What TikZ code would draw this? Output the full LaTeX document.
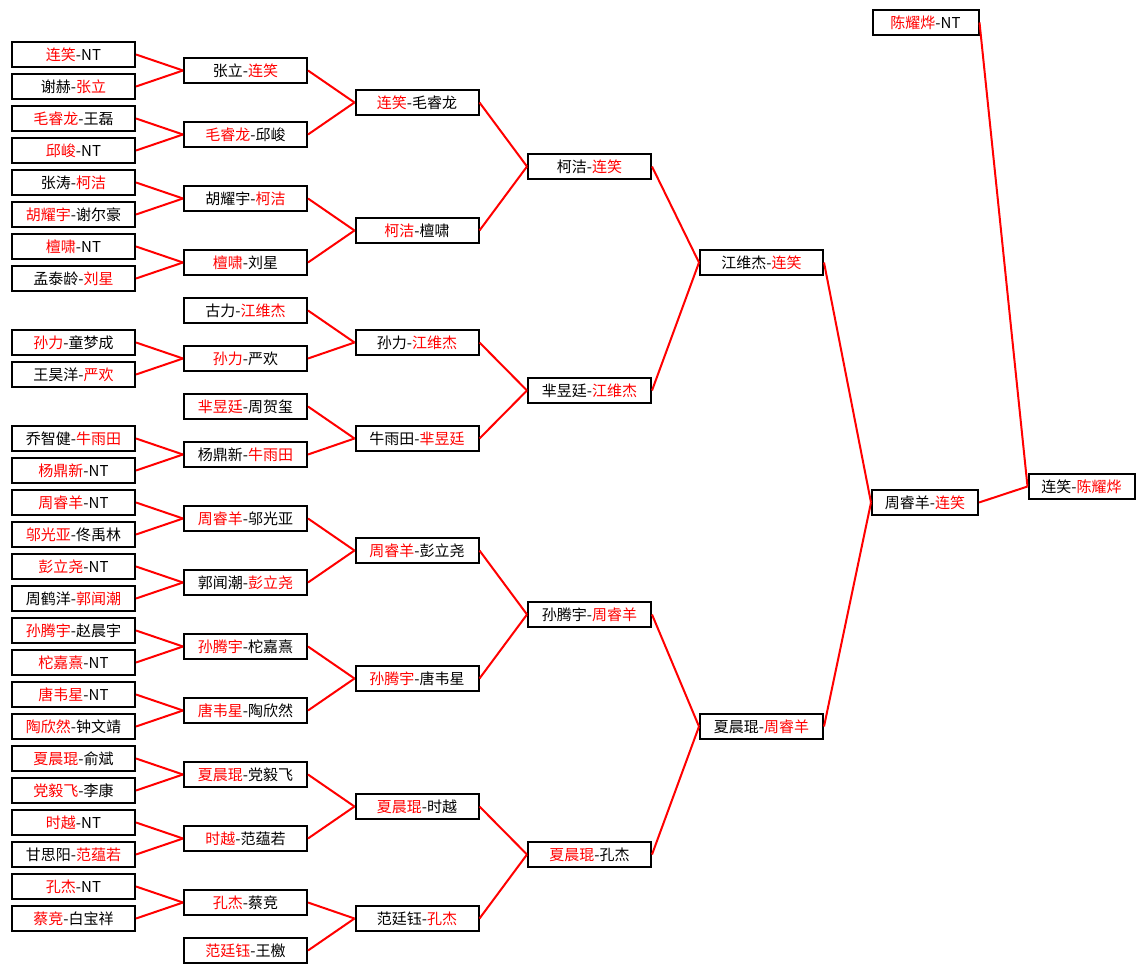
\documentclass[tikz,border=0pt]{standalone}
\usepackage{fontspec}
\setmainfont{Noto Sans CJK SC}
\newcommand\win[1]{\textcolor{red}{#1}}

\tikzset{
  pbox/.style={draw, line width=2pt, fill=white, minimum width=123pt,
    minimum height=25pt, inner sep=0pt, font=\fontsize{15}{15}\selectfont},
  sbox/.style={pbox, minimum width=106pt},
  link/.style={red, line width=2pt}
}

\begin{document}
\begin{tikzpicture}[x=1pt,y=-1pt]

%background
\fill[white] (0,0) rectangle (1145,973);
\useasboundingbox (0,0) rectangle (1145,973);

%first round
\node[pbox] (ra1) at (73.5,54.5) {\win{连笑}-NT};
\node[pbox] (ra2) at (73.5,86.5) {谢赫-\win{张立}};
\node[pbox] (ra3) at (73.5,118.5) {\win{毛睿龙}-王磊};
\node[pbox] (ra4) at (73.5,150.5) {\win{邱峻}-NT};
\node[pbox] (ra5) at (73.5,182.5) {张涛-\win{柯洁}};
\node[pbox] (ra6) at (73.5,214.5) {\win{胡耀宇}-谢尔豪};
\node[pbox] (ra7) at (73.5,246.5) {\win{檀啸}-NT};
\node[pbox] (ra8) at (73.5,278.5) {孟泰龄-\win{刘星}};
\node[pbox] (ra9) at (73.5,342.5) {\win{孙力}-童梦成};
\node[pbox] (ra10) at (73.5,374.5) {王昊洋-\win{严欢}};
\node[pbox] (ra11) at (73.5,438.5) {乔智健-\win{牛雨田}};
\node[pbox] (ra12) at (73.5,470.5) {\win{杨鼎新}-NT};
\node[pbox] (ra13) at (73.5,502.5) {\win{周睿羊}-NT};
\node[pbox] (ra14) at (73.5,534.5) {\win{邬光亚}-佟禹林};
\node[pbox] (ra15) at (73.5,566.5) {\win{彭立尧}-NT};
\node[pbox] (ra16) at (73.5,598.5) {周鹤洋-\win{郭闻潮}};
\node[pbox] (ra17) at (73.5,630.5) {\win{孙腾宇}-赵晨宇};
\node[pbox] (ra18) at (73.5,662.5) {\win{柁嘉熹}-NT};
\node[pbox] (ra19) at (73.5,694.5) {\win{唐韦星}-NT};
\node[pbox] (ra20) at (73.5,726.5) {\win{陶欣然}-钟文靖};
\node[pbox] (ra21) at (73.5,758.5) {\win{夏晨琨}-俞斌};
\node[pbox] (ra22) at (73.5,790.5) {\win{党毅飞}-李康};
\node[pbox] (ra23) at (73.5,822.5) {\win{时越}-NT};
\node[pbox] (ra24) at (73.5,854.5) {甘思阳-\win{范蕴若}};
\node[pbox] (ra25) at (73.5,886.5) {\win{孔杰}-NT};
\node[pbox] (ra26) at (73.5,918.5) {\win{蔡竞}-白宝祥};

%second round
\node[pbox] (rb1) at (245.5,70.5) {张立-\win{连笑}};
\node[pbox] (rb2) at (245.5,134.5) {\win{毛睿龙}-邱峻};
\node[pbox] (rb3) at (245.5,198.5) {胡耀宇-\win{柯洁}};
\node[pbox] (rb4) at (245.5,262.5) {\win{檀啸}-刘星};
\node[pbox] (rb5) at (245.5,310.5) {古力-\win{江维杰}};
\node[pbox] (rb6) at (245.5,358.5) {\win{孙力}-严欢};
\node[pbox] (rb7) at (245.5,406.5) {\win{芈昱廷}-周贺玺};
\node[pbox] (rb8) at (245.5,454.5) {杨鼎新-\win{牛雨田}};
\node[pbox] (rb9) at (245.5,518.5) {\win{周睿羊}-邬光亚};
\node[pbox] (rb10) at (245.5,582.5) {郭闻潮-\win{彭立尧}};
\node[pbox] (rb11) at (245.5,646.5) {\win{孙腾宇}-柁嘉熹};
\node[pbox] (rb12) at (245.5,710.5) {\win{唐韦星}-陶欣然};
\node[pbox] (rb13) at (245.5,774.5) {\win{夏晨琨}-党毅飞};
\node[pbox] (rb14) at (245.5,838.5) {\win{时越}-范蕴若};
\node[pbox] (rb15) at (245.5,902.5) {\win{孔杰}-蔡竞};
\node[pbox] (rb16) at (245.5,950.5) {\win{范廷钰}-王檄};

%third round
\node[pbox] (rc1) at (417,102.5) {\win{连笑}-毛睿龙};
\node[pbox] (rc2) at (417,230.5) {\win{柯洁}-檀啸};
\node[pbox] (rc3) at (417,342.5) {孙力-\win{江维杰}};
\node[pbox] (rc4) at (417,438.5) {牛雨田-\win{芈昱廷}};
\node[pbox] (rc5) at (417,550.5) {\win{周睿羊}-彭立尧};
\node[pbox] (rc6) at (417,678.5) {\win{孙腾宇}-唐韦星};
\node[pbox] (rc7) at (417,806.5) {\win{夏晨琨}-时越};
\node[pbox] (rc8) at (417,918.5) {范廷钰-\win{孔杰}};

%quarter finals
\node[pbox] (rd1) at (589.5,166.5) {柯洁-\win{连笑}};
\node[pbox] (rd2) at (589.5,390.5) {芈昱廷-\win{江维杰}};
\node[pbox] (rd3) at (589.5,614.5) {孙腾宇-\win{周睿羊}};
\node[pbox] (rd4) at (589.5,854.5) {\win{夏晨琨}-孔杰};

%semi finals and final
\node[pbox] (re1) at (761.5,262.5) {江维杰-\win{连笑}};
\node[pbox] (re2) at (761.5,726.5) {夏晨琨-\win{周睿羊}};
\node[sbox] (semi) at (925,502.5) {周睿羊-\win{连笑}};
\node[sbox] (seed) at (925.5,22.5) {\win{陈耀烨}-NT};
\node[sbox] (final) at (1081.5,486.5) {连笑-\win{陈耀烨}};

%connectors
\foreach \a/\b in {ra1/rb1,ra2/rb1,ra3/rb2,ra4/rb2,ra5/rb3,ra6/rb3,ra7/rb4,ra8/rb4,
    ra9/rb6,ra10/rb6,ra11/rb8,ra12/rb8,ra13/rb9,ra14/rb9,ra15/rb10,ra16/rb10,
    ra17/rb11,ra18/rb11,ra19/rb12,ra20/rb12,ra21/rb13,ra22/rb13,ra23/rb14,ra24/rb14,
    ra25/rb15,ra26/rb15}
    \draw[link] (\a.east) -- (\b.west);
\foreach \a/\b in {rb1/rc1,rb2/rc1,rb3/rc2,rb4/rc2,rb5/rc3,rb6/rc3,rb7/rc4,rb8/rc4,
    rb9/rc5,rb10/rc5,rb11/rc6,rb12/rc6,rb13/rc7,rb14/rc7,rb15/rc8,rb16/rc8}
    \draw[link] (\a.east) -- (\b.west);
\foreach \a/\b in {rc1/rd1,rc2/rd1,rc3/rd2,rc4/rd2,rc5/rd3,rc6/rd3,rc7/rd4,rc8/rd4,
    rd1/re1,rd2/re1,rd3/re2,rd4/re2,re1/semi,re2/semi,seed/final,semi/final}
    \draw[link] (\a.east) -- (\b.west);

\end{tikzpicture}
\end{document}
